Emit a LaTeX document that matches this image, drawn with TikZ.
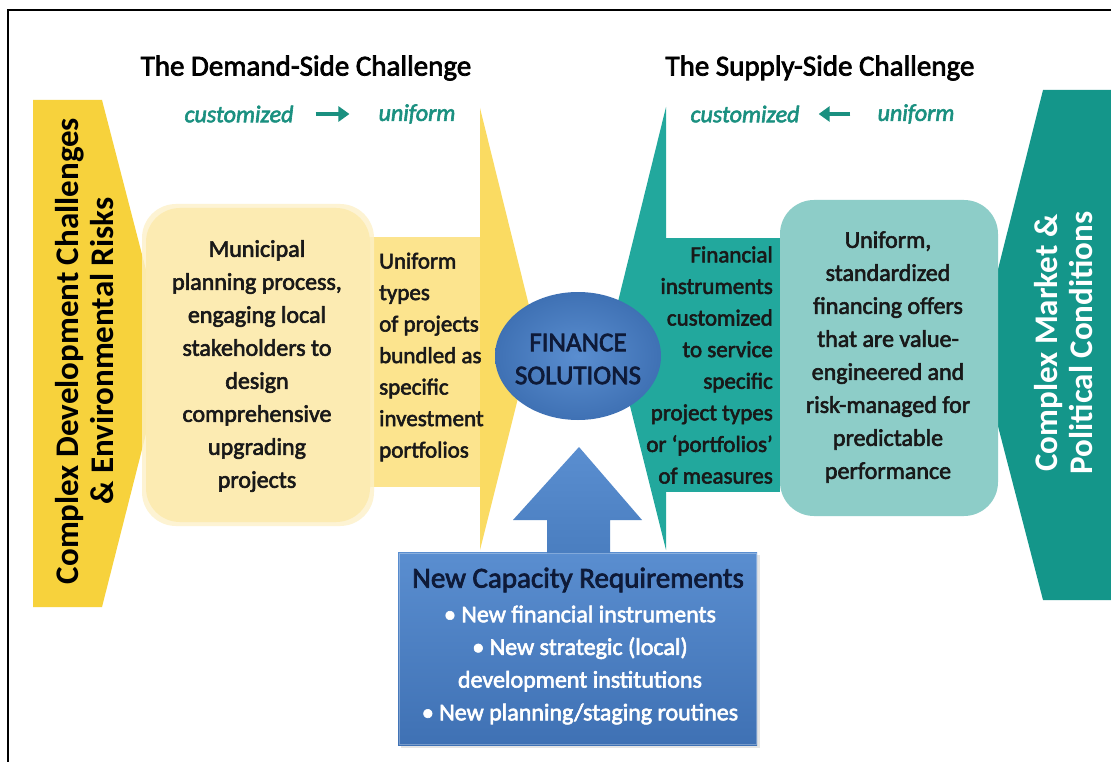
\documentclass[tikz,border=0pt]{standalone}
\usepackage{fontspec}
\setmainfont{Carlito}
\newfontfamily\medfont[FakeBold=2.5]{Carlito}
\usetikzlibrary{shadows,arrows.meta}
\definecolor{gold}{HTML}{F7D23C}
\definecolor{ylhead}{HTML}{FADB62}
\definecolor{ylrect}{HTML}{FCE48E}
\definecolor{ylbox}{HTML}{FCEBB2}
\definecolor{ylglow}{HTML}{FDF1C8}
\definecolor{tealm}{HTML}{22A89D}
\definecolor{teald}{HTML}{14968A}
\definecolor{teall}{HTML}{8DCDC8}
\definecolor{tealtxt}{HTML}{1A9080}
\definecolor{bluem}{HTML}{4A7EC0}
\definecolor{bluel}{HTML}{5A8ED0}
\definecolor{blued}{HTML}{3F71B4}
\definecolor{navy}{HTML}{0E1A38}
\tikzset{
  bodytext/.style={font={\medfont\fontsize{24}{33}\selectfont}, text=black!90, inner sep=0pt},
  titletext/.style={font={\medfont\fontsize{29}{33}\selectfont}, text=black, inner sep=0pt},
  flowword/.style={font={\medfont\itshape\fontsize{24}{28}\selectfont}, text=tealtxt, inner sep=0pt},
  flowarrow/.style={draw=tealtxt, line width=3.6pt, -{Triangle[length=11pt,width=15pt]}},
  sidetext/.style={font={\bfseries\fontsize{33}{35}\selectfont}, inner sep=0pt, rotate=90, align=center},
  roundbox/.style={rounded corners=34pt},
}
\begin{document}
\begin{tikzpicture}[x=1pt,y=-1pt]
\useasboundingbox (0,0) rectangle (1111,762);
\fill[white] (0,0) rectangle (1111,762);
\draw[line width=1.6pt] (8,762) -- (8,10) -- (1111,10);

% left big arrow
\fill[gold] (33,100) -- (102,100) -- (167,351) -- (102,607) -- (33,607) -- cycle;
% right big arrow
\fill[teald] (1043,90) -- (1111,90) -- (1111,600) -- (1043,600) -- (978,349) -- cycle;

% demand side arrow
\fill[ylrect] (361,237) rectangle (480,487);
\fill[ylhead] (480,108) -- (535,330) -- (480,550) -- cycle;
% supply side arrow
\fill[tealm] (666,238) rectangle (780,492);
\fill[tealm] (666,107) -- (611,330) -- (666,550) -- cycle;

% municipal box
\fill[ylglow, roundbox, opacity=0.8] (142,204) rectangle (374,526);
\fill[ylbox, roundbox] (146,208) rectangle (370,522);
% right light teal box
\fill[teall, roundbox] (780,200) rectangle (998,516);

% new capacity box
\fill[black, opacity=0.10] (401,555) rectangle (760,748);
\shade[top color=bluel, bottom color=blued] (398,552) rectangle (757,745);
\draw[white, opacity=0.3, line width=1pt] (399,553) rectangle (756,744);
% up arrow
\shade[top color=bluel, bottom color=bluem]
  (547,553) -- (547,520) -- (513,520) -- (579,447) -- (642,520) -- (610,520) -- (610,553) -- cycle;

% finance ellipse
\shade[inner color=bluel, outer color=blued] (578,356) ellipse [x radius=83, y radius=64];
\node[font={\medfont\fontsize{27}{33}\selectfont}, text=navy, align=center, inner sep=0pt]
  (fin) at (578,359) {FINANCE\\SOLUTIONS};

% titles
\node[titletext] (dtitle) at (306,68) {The Demand-Side Challenge};
\node[titletext] (stitle) at (820,68) {The Supply-Side Challenge};

% customized -> uniform
\node[flowword] (dcust) at (239,114) {customized};
\node[flowword] (dunif) at (417,114) {uniform};
\draw[flowarrow, shorten <=22pt, shorten >=29pt] (dcust.east) -- (dunif.west);
\node[flowword] (scust) at (745,114) {customized};
\node[flowword] (sunif) at (916,114) {uniform};
\draw[flowarrow, shorten <=27pt, shorten >=19pt] (sunif.west) -- (scust.east);

% side texts
\node[sidetext, text=black] (cdc) at (85,351) {Complex Development Challenges\\\& Environmental Risks};
\node[sidetext, text=white] (cmp) at (1064,343) {Complex Market \&\\Political Conditions};

% body texts
\node[bodytext, align=center] (muni) at (257,366)
  {Municipal\\planning process,\\engaging local\\stakeholders to\\design\\comprehensive\\upgrading\\projects};
\node[bodytext, align=left, anchor=west, font={\medfont\fontsize{23}{31.5}\selectfont}] (unity) at (379,357)
  {Uniform\\types\\of projects\\bundled as\\specific\\investment\\portfolios};
\node[bodytext, align=right, anchor=east, font={\medfont\fontsize{23}{31.6}\selectfont}] (finst) at (773,365)
  {Financial\\instruments\\customized\\to service\\specific\\project types\\or ‘portfolios’\\of measures};
\node[bodytext, align=center] (unif) at (888,357)
  {Uniform,\\standardized\\financing offers\\that are value-\\engineered and\\risk-managed for\\predictable\\performance};

% capacity box text
\node[font={\medfont\fontsize{29}{33}\selectfont}, text=navy, inner sep=0pt] (capt) at (578,580) {New Capacity Requirements};
\node[font={\medfont\fontsize{24}{32.7}\selectfont}, text=white, align=center, inner sep=0pt] (capl) at (580,665)
  {• New financial instruments\\• New strategic (local)\\development institutions\\• New planning/staging routines};
\end{tikzpicture}
\end{document}
